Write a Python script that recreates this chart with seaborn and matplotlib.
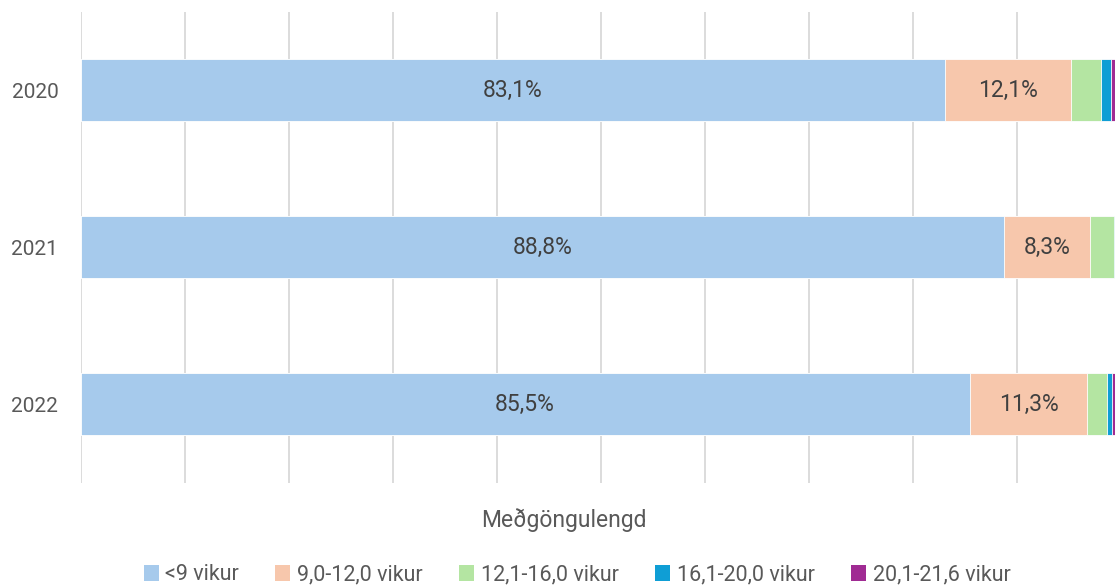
import matplotlib
matplotlib.use("Agg")
import matplotlib.pyplot as plt
from matplotlib.patches import Patch
import pandas as pd
import numpy as np
import seaborn as sns

# data (percent of each year)
years = ["2020", "2021", "2022"]
groups = ["<9 vikur", "9,0-12,0 vikur", "12,1-16,0 vikur", "16,1-20,0 vikur", "20,1-21,6 vikur"]
under_9 = [83.1, 88.8, 85.5]
w9_12 = [12.1, 8.3, 11.3]
w12_16 = [2.9, 2.3, 1.9]
w16_20 = [1.0, 0.5, 0.5]
w20_22 = [0.9, 0.1, 0.8]
colors = ["#A6CAEC", "#F7C7AC", "#B4E5A2", "#0F9ED5", "#A02B93"]

sns.set_theme(style="white")
plt.rcParams["font.family"] = ["Roboto", "DejaVu Sans"]

df = pd.DataFrame({"year": years, groups[0]: under_9, groups[1]: w9_12,
                   groups[2]: w12_16, groups[3]: w16_20, groups[4]: w20_22})
cum = df[groups].cumsum(axis=1)

fig = plt.figure(figsize=(11.15, 5.85), dpi=100)
ax = fig.add_axes([80.5 / 1115, 102.5 / 585, 1040 / 1115, 471 / 585])

# stacked bars: draw cumulative totals from the outside in
for g, c in reversed(list(zip(groups, colors))):
    sns.barplot(x=cum[g], y=df["year"], orient="h", color=c, saturation=1, width=0.395,
                edgecolor="white", linewidth=0.6, ax=ax, zorder=3)

# labels on the two big segments
for i, yr in enumerate(years):
    left = 0
    for g in groups[:2]:
        v = df.loc[i, g]
        ax.text(left + v / 2, i, f"{v:.1f}%".replace(".", ","), ha="center", va="center",
                fontsize=16.5, color="#404040", zorder=4)
        left += v

ax.set_xlim(0, 100)
ax.set_ylim(2.5, -0.5)
ax.set_xticks(np.arange(0, 101, 10))
ax.set_xticklabels([])
ax.grid(axis="x", color="#d9d9d9", linewidth=1.3, zorder=0)
ax.set_axisbelow(True)
for s in ax.spines.values():
    s.set_visible(False)
ax.tick_params(axis="y", length=0, pad=16, labelsize=15, labelcolor="#595959")
ax.tick_params(axis="x", length=0)
ax.set_xlabel("")
ax.set_ylabel("")

fig.text(564 / 1115, 1 - 520 / 585, "Meðgöngulengd", ha="center", va="center",
         fontsize=16.5, color="#595959")

handles = [Patch(facecolor=c, edgecolor="none") for c in colors]
fig.legend(handles, groups, loc="center", bbox_to_anchor=(577 / 1115, 1 - 575 / 585),
           ncol=5, frameon=False, fontsize=15.5, labelcolor="#595959",
           handlelength=0.7, handleheight=0.7, handletextpad=0.3, columnspacing=1.7)

fig.savefig("out.png", dpi=100)
